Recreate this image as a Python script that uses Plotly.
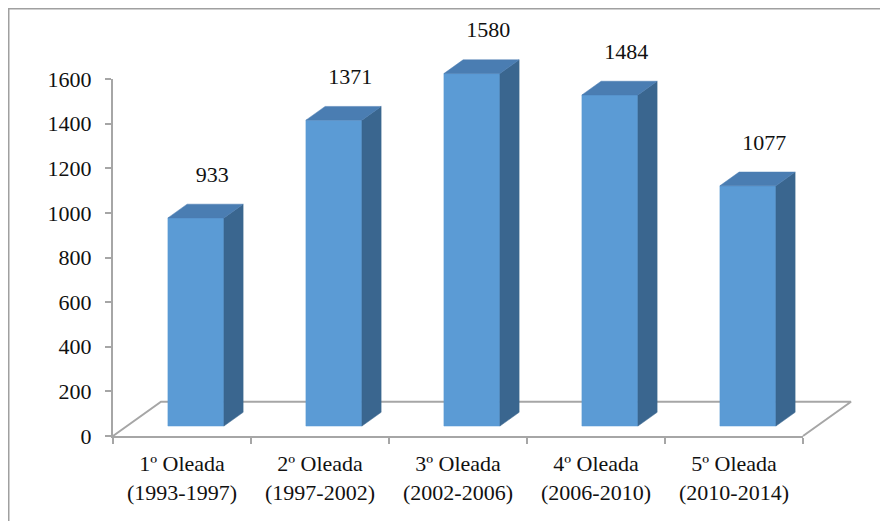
import plotly.graph_objects as go

# ---------------- data ----------------
categories = ["1º Oleada", "2º Oleada", "3º Oleada", "4º Oleada", "5º Oleada"]
periods = ["(1993-1997)", "(1997-2002)", "(2002-2006)", "(2006-2010)", "(2010-2014)"]
values = [933, 1371, 1580, 1484, 1077]
y_ticks = [0, 200, 400, 600, 800, 1000, 1200, 1400, 1600]

# ---------------- geometry / style ----------------
# The page body has an 8px margin, so the figure is drawn at (8, 8) in the window.
OFF = 8
W, H = 888 - OFF, 521 - OFF
AX_L, AX_R = 113 - OFF, 803 - OFF   # pixel extent of category axis (front floor edge)
AX_B, AX_T = 436 - OFF, 79 - OFF    # pixel of value 0 and value Y_MAX
Y_MAX = 1600
n = len(categories)
px_per_cat = (AX_R - AX_L) / n
px_per_unit = (AX_B - AX_T) / Y_MAX

DEPTH_X = 48 / px_per_cat          # floor depth (category units)
DEPTH_Y = 34.3 / px_per_unit       # floor depth (value units)
F_FRONT, F_BACK = 0.29, 0.69       # bar position inside the floor depth
HALF_W = 0.203                     # half bar width (category units)
LABEL_GAP = 28 / px_per_unit

FRONT = "#5B9BD5"
SIDE = "#3A668F"
TOP = "#4A7DB2"
GRID = "#A6A6A6"
FONT = "Liberation Serif, Times New Roman, DejaVu Serif, serif"
TXT = "#111111"

fig = go.Figure()

# invisible trace so that the axis-frame subplot is created
fig.add_trace(go.Scatter(x=[], y=[], xaxis="x", yaxis="y", hoverinfo="skip"))

# floor outline (back, right and left edges); the front edge is the x axis line
x0, x1 = -0.5, n - 0.5
fig.add_trace(go.Scatter(
    x=[x1, x1 + DEPTH_X, x0 + DEPTH_X, x0],
    y=[0, DEPTH_Y, DEPTH_Y, 0],
    mode="lines", line=dict(color=GRID, width=2),
    xaxis="x2", yaxis="y2", hoverinfo="skip"))

fx0, fy0 = F_FRONT * DEPTH_X, F_FRONT * DEPTH_Y
fx1, fy1 = F_BACK * DEPTH_X, F_BACK * DEPTH_Y

for i, v in enumerate(values):
    c = i
    # front face
    fig.add_trace(go.Scatter(
        x=[c + fx0 - HALF_W, c + fx0 + HALF_W, c + fx0 + HALF_W, c + fx0 - HALF_W, c + fx0 - HALF_W],
        y=[fy0, fy0, v + fy0, v + fy0, fy0],
        mode="lines", fill="toself", fillcolor=FRONT, line=dict(color=FRONT, width=0.5),
        xaxis="x2", yaxis="y2", hoverinfo="skip"))
    # side face
    fig.add_trace(go.Scatter(
        x=[c + fx0 + HALF_W, c + fx1 + HALF_W, c + fx1 + HALF_W, c + fx0 + HALF_W, c + fx0 + HALF_W],
        y=[fy0, fy1, v + fy1, v + fy0, fy0],
        mode="lines", fill="toself", fillcolor=SIDE, line=dict(color=SIDE, width=0.5),
        xaxis="x2", yaxis="y2", hoverinfo="skip"))
    # top face
    fig.add_trace(go.Scatter(
        x=[c + fx0 - HALF_W, c + fx0 + HALF_W, c + fx1 + HALF_W, c + fx1 - HALF_W, c + fx0 - HALF_W],
        y=[v + fy0, v + fy0, v + fy1, v + fy1, v + fy0],
        mode="lines", fill="toself", fillcolor=TOP, line=dict(color=TOP, width=0.5),
        xaxis="x2", yaxis="y2", hoverinfo="skip"))

# value labels
fig.add_trace(go.Scatter(
    x=[i + fx1 - 0.02 for i in range(n)],
    y=[v + fy1 + LABEL_GAP for v in values],
    text=[str(v) for v in values],
    mode="text", textposition="middle center",
    textfont=dict(family=FONT, size=22, color=TXT),
    xaxis="x2", yaxis="y2", hoverinfo="skip", cliponaxis=False))

tick_text = [f"{a}<br>{b}" for a, b in zip(categories, periods)]

fig.update_layout(
    width=W, height=H,
    margin=dict(l=0, r=0, t=0, b=0),
    paper_bgcolor="white", plot_bgcolor="rgba(0,0,0,0)",
    showlegend=False,
    font=dict(family=FONT, size=22, color=TXT),
    xaxis=dict(
        domain=[AX_L / W, AX_R / W], range=[-0.5, n - 0.5], anchor="y",
        showgrid=False, zeroline=False,
        showline=True, linecolor=GRID, linewidth=2,
        tickmode="array", tickvals=list(range(n)), ticktext=tick_text,
        ticks="", ticklabelstandoff=7,
        minor=dict(tickmode="array", tickvals=[k - 0.5 for k in range(n + 1)],
                   ticks="outside", ticklen=6, tickcolor=GRID, tickwidth=2),
        tickfont=dict(family=FONT, size=22, color=TXT),
        automargin=False, fixedrange=True,
    ),
    yaxis=dict(
        domain=[(H - AX_B) / H, (H - AX_T) / H], range=[0, Y_MAX], anchor="x",
        showgrid=False, zeroline=False,
        showline=True, linecolor=GRID, linewidth=2,
        tickmode="array", tickvals=y_ticks,
        ticks="outside", ticklen=6, tickcolor=GRID, tickwidth=2,
        ticklabelstandoff=9,
        tickfont=dict(family=FONT, size=22, color=TXT),
        automargin=False, fixedrange=True,
    ),
    xaxis2=dict(
        domain=[0, 1], anchor="y2", visible=False, fixedrange=True,
        range=[-0.5 - AX_L / px_per_cat, -0.5 + (W - AX_L) / px_per_cat],
    ),
    yaxis2=dict(
        domain=[0, 1], anchor="x2", visible=False, fixedrange=True,
        range=[-(H - AX_B) / px_per_unit, AX_B / px_per_unit],
    ),
    shapes=[dict(type="rect", xref="paper", yref="paper",
                 x0=0, x1=1.05, y0=-0.05, y1=1,
                 line=dict(color="#A0A0A0", width=3))],
)

fig.write_html("out.html")
